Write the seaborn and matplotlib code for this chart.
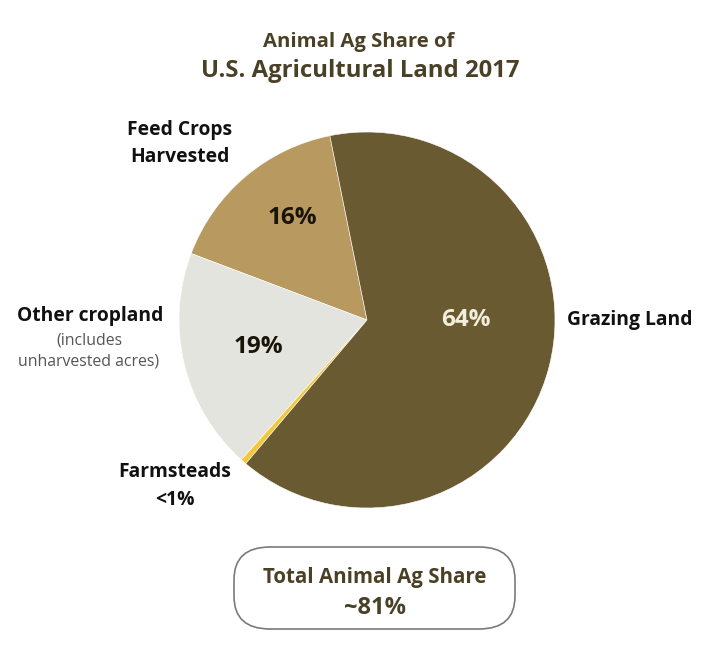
import matplotlib
matplotlib.use('Agg')
import matplotlib.pyplot as plt
import seaborn as sns
from matplotlib.patches import FancyBboxPatch

# Data
categories = ['Feed Crops Harvested', 'Other cropland', 'Farmsteads', 'Grazing Land']
shares = [16, 19, 0.5, 64]
pct_labels = ['16%', '19%', '', '64%']
colors = ['#B8995F', '#E3E4DE', '#F2C73A', '#6A5A31']
total_share = '~81%'

sns.set_theme(style='white')
plt.rcParams['font.family'] = ['Open Sans', 'DejaVu Sans']

W, H = 720, 653
fig = plt.figure(figsize=(W / 100, H / 100), dpi=100)
fig.patch.set_facecolor('white')

def fx(x):
    return x / W

def fy(y):
    return 1 - y / H

# pie axes: centre (367, 320), radius 188 px
cx, cy, r = 367, 320, 188
ax = fig.add_axes([fx(cx - r), fy(cy + r), 2 * r / W, 2 * r / H])
wedges, _ = ax.pie(shares, colors=colors, startangle=101.4, counterclock=True,
                   wedgeprops=dict(edgecolor='white', linewidth=0.4))
ax.set_xlim(-1, 1)
ax.set_ylim(-1, 1)
ax.set_aspect('equal')
ax.axis('off')

title_col = '#4A4026'
fig.text(fx(359), fy(42), 'Animal Ag Share of', ha='center', va='center',
         fontsize=14.6, fontweight='bold', color=title_col)
fig.text(fx(360), fy(71), 'U.S. Agricultural Land 2017', ha='center', va='center',
         fontsize=17.2, fontweight='bold', color=title_col)

# percentages inside wedges
fig.text(fx(292), fy(218), pct_labels[0], ha='center', va='center',
         fontsize=17.5, fontweight='bold', color='#1A1408')
fig.text(fx(258), fy(347), pct_labels[1], ha='center', va='center',
         fontsize=17.5, fontweight='bold', color='#1A1408')
fig.text(fx(466), fy(320), pct_labels[3], ha='center', va='center',
         fontsize=17.5, fontweight='bold', color='#F3EEDC')

# category labels
lab = dict(ha='center', va='center', fontsize=13.9, fontweight='bold', color='#111111')
fig.text(fx(180), fy(130), 'Feed Crops', **lab)
fig.text(fx(180), fy(157), 'Harvested', **lab)
fig.text(fx(90), fy(316), 'Other cropland', **lab)
fig.text(fx(89), fy(340), '(includes', ha='center', va='center', fontsize=11.4, color='#555555')
fig.text(fx(89), fy(362), 'unharvested acres)', ha='center', va='center', fontsize=11.4, color='#555555')
fig.text(fx(175), fy(472), 'Farmsteads', **lab)
fig.text(fx(175), fy(500), '<1%', **lab)
fig.text(fx(630), fy(320), 'Grazing Land', **lab)

# total box
box = FancyBboxPatch((fx(234), fy(629)), fx(281), (629 - 547) / H,
                     boxstyle='round,pad=0,rounding_size=0.05', transform=fig.transFigure,
                     facecolor='white', edgecolor='#7A7A7A', linewidth=1.2)
fig.patches.append(box)
fig.text(fx(375), fy(577), 'Total Animal Ag Share', ha='center', va='center',
         fontsize=14.8, fontweight='bold', color=title_col)
fig.text(fx(375), fy(608), total_share, ha='center', va='center',
         fontsize=17, fontweight='bold', color=title_col)

fig.savefig('out.png', dpi=100, facecolor='white')
